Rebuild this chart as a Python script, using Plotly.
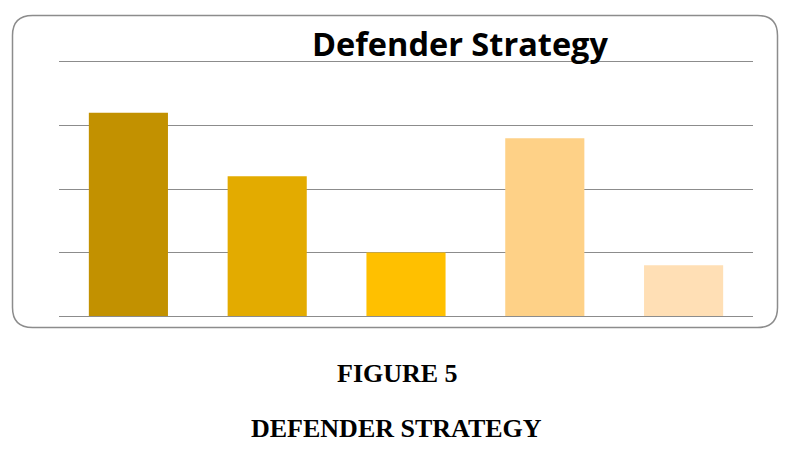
import plotly.graph_objects as go

categories = ["Strategy 1", "Strategy 2", "Strategy 3", "Strategy 4", "Strategy 5"]
values = [3.2, 2.2, 1.0, 2.8, 0.8]
colors = ["#C29100", "#E3AB00", "#FFC000", "#FED187", "#FFDFB5"]
y_ticks = [0, 1, 2, 3, 4]

W, H = 795, 453
L, R, T, B = 59, 753, 62, 316

def px_x(px):
    return (px - L) / (R - L)

def px_y(py):
    return (B - py) / (B - T)

# rounded border rectangle in pixel coords
x0, x1, y0, y1, r = 12.5, 777.5, 15.5, 327.5, 20
pts = [
    f"M {px_x(x0 + r)},{px_y(y0)}",
    f"L {px_x(x1 - r)},{px_y(y0)}",
    f"Q {px_x(x1)},{px_y(y0)} {px_x(x1)},{px_y(y0 + r)}",
    f"L {px_x(x1)},{px_y(y1 - r)}",
    f"Q {px_x(x1)},{px_y(y1)} {px_x(x1 - r)},{px_y(y1)}",
    f"L {px_x(x0 + r)},{px_y(y1)}",
    f"Q {px_x(x0)},{px_y(y1)} {px_x(x0)},{px_y(y1 - r)}",
    f"L {px_x(x0)},{px_y(y0 + r)}",
    f"Q {px_x(x0)},{px_y(y0)} {px_x(x0 + r)},{px_y(y0)}",
    "Z",
]

fig = go.Figure(go.Bar(
    x=categories, y=values, marker=dict(color=colors, line=dict(width=0)),
    width=0.57, hoverinfo="skip",
))

fig.update_layout(
    width=W, height=H,
    margin=dict(l=L, r=W - R, t=T, b=H - B),
    paper_bgcolor="white", plot_bgcolor="white",
    showlegend=False,
    xaxis=dict(showticklabels=False, showgrid=False, zeroline=False,
               showline=True, mirror=True, linecolor="#8C8C8C", linewidth=1.3,
               ticks=""),
    yaxis=dict(range=[0, 4], tickvals=y_ticks, showticklabels=False,
               showgrid=True, gridcolor="#8C8C8C", gridwidth=1.3,
               zeroline=False, showline=False, ticks=""),
    shapes=[dict(type="path", xref="paper", yref="paper", path=" ".join(pts),
                 line=dict(color="#8C8C8C", width=1.5), fillcolor="rgba(0,0,0,0)",
                 layer="above")],
    annotations=[
        dict(text="<b>Defender Strategy</b>", xref="paper", yref="paper",
             x=px_x(460), y=px_y(44), xanchor="center", yanchor="middle",
             showarrow=False, font=dict(family="Open Sans", size=32.5, color="black")),
        dict(text="<b>FIGURE 5</b>", xref="paper", yref="paper",
             x=px_x(397), y=px_y(373), xanchor="center", yanchor="middle",
             showarrow=False, font=dict(family="Liberation Serif", size=26, color="black")),
        dict(text="<b>DEFENDER STRATEGY</b>", xref="paper", yref="paper",
             x=px_x(396), y=px_y(428), xanchor="center", yanchor="middle",
             showarrow=False, font=dict(family="Liberation Serif", size=26, color="black")),
    ],
)

fig.write_html("out.html", config={"displayModeBar": False},
               post_script="document.body.style.margin='0';")
